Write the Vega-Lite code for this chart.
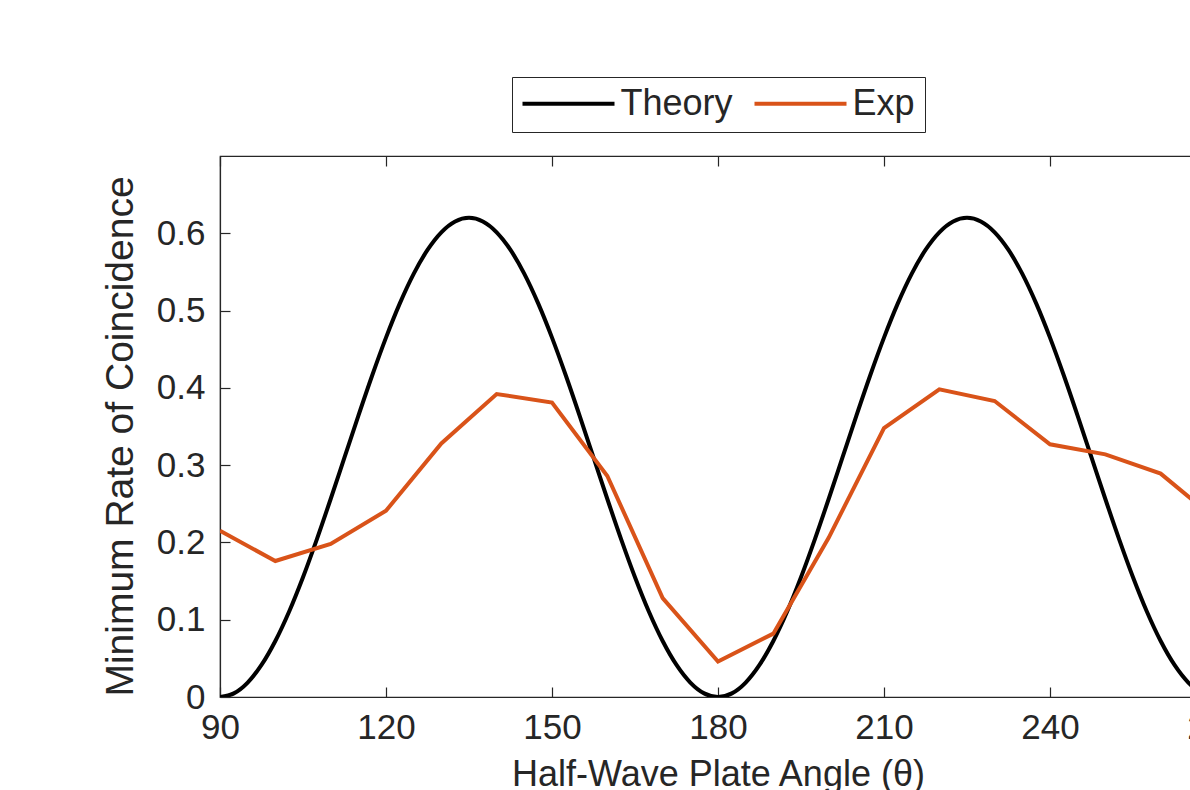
{
  "$schema": "https://vega.github.io/schema/vega-lite/v6.json",
  "autosize": {"type": "none"},
  "width": 996,
  "height": 541,
  "padding": {"left": 220, "top": 156, "right": -26, "bottom": 93},
  "background": "white",
  "config": {
    "view": {"stroke": "#262626", "strokeWidth": 1.2},
    "font": "Liberation Sans",
    "axis": {
      "labelFont": "Liberation Sans",
      "titleFont": "Liberation Sans",
      "labelFontSize": 35,
      "titleFontSize": 38,
      "labelColor": "#262626",
      "titleColor": "#262626",
      "titleFontWeight": "normal",
      "domainColor": "#262626",
      "tickColor": "#262626",
      "domainWidth": 1.2,
      "tickWidth": 1.2,
      "tickSize": -10,
      "grid": false,
      "labelFlush": false,
      "labelOverlap": false,
      "labelBound": false
    }
  },
  "datasets": {
    "theory": [
      {"angle": 90, "value": 0, "series": "Theory"},
      {"angle": 92.5, "value": 0.0047, "series": "Theory"},
      {"angle": 95, "value": 0.0187, "series": "Theory"},
      {"angle": 97.5, "value": 0.0415, "series": "Theory"},
      {"angle": 100, "value": 0.0725, "series": "Theory"},
      {"angle": 102.5, "value": 0.1107, "series": "Theory"},
      {"angle": 105, "value": 0.155, "series": "Theory"},
      {"angle": 107.5, "value": 0.204, "series": "Theory"},
      {"angle": 110, "value": 0.2562, "series": "Theory"},
      {"angle": 112.5, "value": 0.31, "series": "Theory"},
      {"angle": 115, "value": 0.3638, "series": "Theory"},
      {"angle": 117.5, "value": 0.416, "series": "Theory"},
      {"angle": 120, "value": 0.465, "series": "Theory"},
      {"angle": 122.5, "value": 0.5093, "series": "Theory"},
      {"angle": 125, "value": 0.5475, "series": "Theory"},
      {"angle": 127.5, "value": 0.5785, "series": "Theory"},
      {"angle": 130, "value": 0.6013, "series": "Theory"},
      {"angle": 132.5, "value": 0.6153, "series": "Theory"},
      {"angle": 135, "value": 0.62, "series": "Theory"},
      {"angle": 137.5, "value": 0.6153, "series": "Theory"},
      {"angle": 140, "value": 0.6013, "series": "Theory"},
      {"angle": 142.5, "value": 0.5785, "series": "Theory"},
      {"angle": 145, "value": 0.5475, "series": "Theory"},
      {"angle": 147.5, "value": 0.5093, "series": "Theory"},
      {"angle": 150, "value": 0.465, "series": "Theory"},
      {"angle": 152.5, "value": 0.416, "series": "Theory"},
      {"angle": 155, "value": 0.3638, "series": "Theory"},
      {"angle": 157.5, "value": 0.31, "series": "Theory"},
      {"angle": 160, "value": 0.2562, "series": "Theory"},
      {"angle": 162.5, "value": 0.204, "series": "Theory"},
      {"angle": 165, "value": 0.155, "series": "Theory"},
      {"angle": 167.5, "value": 0.1107, "series": "Theory"},
      {"angle": 170, "value": 0.0725, "series": "Theory"},
      {"angle": 172.5, "value": 0.0415, "series": "Theory"},
      {"angle": 175, "value": 0.0187, "series": "Theory"},
      {"angle": 177.5, "value": 0.0047, "series": "Theory"},
      {"angle": 180, "value": 0, "series": "Theory"},
      {"angle": 182.5, "value": 0.0047, "series": "Theory"},
      {"angle": 185, "value": 0.0187, "series": "Theory"},
      {"angle": 187.5, "value": 0.0415, "series": "Theory"},
      {"angle": 190, "value": 0.0725, "series": "Theory"},
      {"angle": 192.5, "value": 0.1107, "series": "Theory"},
      {"angle": 195, "value": 0.155, "series": "Theory"},
      {"angle": 197.5, "value": 0.204, "series": "Theory"},
      {"angle": 200, "value": 0.2562, "series": "Theory"},
      {"angle": 202.5, "value": 0.31, "series": "Theory"},
      {"angle": 205, "value": 0.3638, "series": "Theory"},
      {"angle": 207.5, "value": 0.416, "series": "Theory"},
      {"angle": 210, "value": 0.465, "series": "Theory"},
      {"angle": 212.5, "value": 0.5093, "series": "Theory"},
      {"angle": 215, "value": 0.5475, "series": "Theory"},
      {"angle": 217.5, "value": 0.5785, "series": "Theory"},
      {"angle": 220, "value": 0.6013, "series": "Theory"},
      {"angle": 222.5, "value": 0.6153, "series": "Theory"},
      {"angle": 225, "value": 0.62, "series": "Theory"},
      {"angle": 227.5, "value": 0.6153, "series": "Theory"},
      {"angle": 230, "value": 0.6013, "series": "Theory"},
      {"angle": 232.5, "value": 0.5785, "series": "Theory"},
      {"angle": 235, "value": 0.5475, "series": "Theory"},
      {"angle": 237.5, "value": 0.5093, "series": "Theory"},
      {"angle": 240, "value": 0.465, "series": "Theory"},
      {"angle": 242.5, "value": 0.416, "series": "Theory"},
      {"angle": 245, "value": 0.3638, "series": "Theory"},
      {"angle": 247.5, "value": 0.31, "series": "Theory"},
      {"angle": 250, "value": 0.2562, "series": "Theory"},
      {"angle": 252.5, "value": 0.204, "series": "Theory"},
      {"angle": 255, "value": 0.155, "series": "Theory"},
      {"angle": 257.5, "value": 0.1107, "series": "Theory"},
      {"angle": 260, "value": 0.0725, "series": "Theory"},
      {"angle": 262.5, "value": 0.0415, "series": "Theory"},
      {"angle": 265, "value": 0.0187, "series": "Theory"},
      {"angle": 267.5, "value": 0.0047, "series": "Theory"},
      {"angle": 270, "value": 0, "series": "Theory"}
    ],
    "exp": [
      {"angle": 90, "value": 0.215, "series": "Exp"},
      {"angle": 100, "value": 0.176, "series": "Exp"},
      {"angle": 110, "value": 0.198, "series": "Exp"},
      {"angle": 120, "value": 0.241, "series": "Exp"},
      {"angle": 130, "value": 0.328, "series": "Exp"},
      {"angle": 140, "value": 0.392, "series": "Exp"},
      {"angle": 150, "value": 0.381, "series": "Exp"},
      {"angle": 160, "value": 0.286, "series": "Exp"},
      {"angle": 170, "value": 0.128, "series": "Exp"},
      {"angle": 180, "value": 0.046, "series": "Exp"},
      {"angle": 190, "value": 0.082, "series": "Exp"},
      {"angle": 200, "value": 0.206, "series": "Exp"},
      {"angle": 210, "value": 0.348, "series": "Exp"},
      {"angle": 220, "value": 0.398, "series": "Exp"},
      {"angle": 230, "value": 0.383, "series": "Exp"},
      {"angle": 240, "value": 0.327, "series": "Exp"},
      {"angle": 250, "value": 0.314, "series": "Exp"},
      {"angle": 260, "value": 0.289, "series": "Exp"},
      {"angle": 270, "value": 0.23, "series": "Exp"}
    ]
  },
  "encoding": {
    "y": {
      "field": "value",
      "type": "quantitative",
      "scale": {"domain": [0, 0.7], "nice": false, "zero": false},
      "axis": {
        "values": [0, 0.1, 0.2, 0.3, 0.4, 0.5, 0.6],
        "format": ".1~f",
        "labelPadding": 25,
        "title": "Minimum Rate of Coincidence",
        "titleFontSize": 39,
        "titleX": -87.5,
        "titleY": 280,
        "titleBaseline": "alphabetic"
      }
    },
    "color": {
      "field": "series",
      "type": "nominal",
      "scale": {"domain": ["Theory", "Exp"], "range": ["#000000", "#D95319"]},
      "legend": {
        "title": null,
        "orient": "none",
        "legendX": 292,
        "legendY": -79,
        "direction": "horizontal",
        "columns": 2,
        "symbolType": "stroke",
        "symbolSize": 8464,
        "symbolStrokeWidth": 4,
        "clipHeight": 33,
        "padding": 10,
        "labelOffset": 4,
        "symbolOffset": -1.5,
        "columnPadding": 21,
        "labelFont": "Liberation Sans",
        "labelFontSize": 36,
        "labelColor": "#262626",
        "labelLimit": 0,
        "strokeColor": "#262626",
        "fillColor": "white"
      }
    }
  },
  "layer": [
    {
      "data": {"name": "theory"},
      "mark": {"type": "line", "interpolate": "monotone", "strokeWidth": 4, "clip": true},
      "encoding": {
        "x": {
          "field": "angle",
          "type": "quantitative",
          "scale": {"domain": [90, 270], "nice": false, "zero": false},
          "axis": {
            "orient": "bottom",
            "values": [90, 120, 150, 180, 210, 240, 270],
            "labelBaseline": "alphabetic",
            "labelPadding": 51,
            "title": "Half-Wave Plate Angle (θ)",
            "titleFontSize": 36,
            "titleBaseline": "alphabetic",
            "titleY": 88
          }
        }
      }
    },
    {
      "data": {"name": "exp"},
      "mark": {"type": "line", "strokeWidth": 4, "clip": true},
      "encoding": {
        "x": {
          "field": "angle",
          "type": "quantitative",
          "scale": {"domain": [90, 270], "nice": false, "zero": false},
          "axis": {
            "orient": "top",
            "values": [90, 120, 150, 180, 210, 240, 270],
            "labels": false,
            "title": null
          }
        }
      }
    }
  ],
  "resolve": {"axis": {"x": "independent"}}
}
